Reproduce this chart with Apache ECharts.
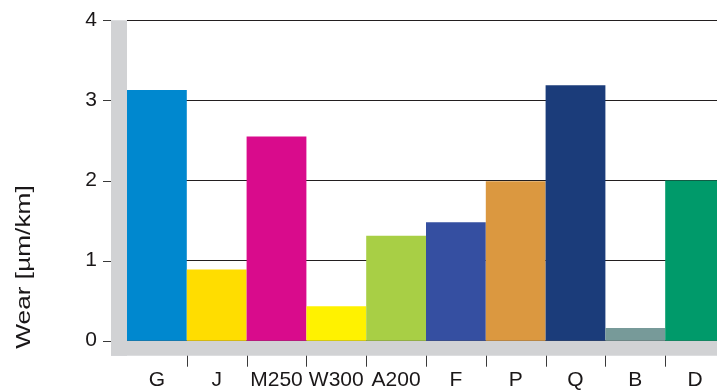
<!DOCTYPE html>
<html><head><meta charset="utf-8">
<script src="https://cdn.jsdelivr.net/npm/echarts@6/dist/echarts.min.js"></script>
<style>html,body{margin:0;padding:0;background:#fff}#c{width:717px;height:390px}</style>
</head><body><div id="c"></div>
<script>
const categories = ['G','J','M250','W300','A200','F','P','Q','B','D'];
const values = [3.13, 0.89, 2.55, 0.43, 1.31, 1.48, 1.99, 3.19, 0.16, 2.0];
const colors = ['#0088cf','#ffdd00','#d90b8c','#fff200','#a8cf45','#354fa1','#db9840','#1b3c7a','#779a99','#009a6a'];
const yTicks = [0,1,2,3,4];
const yTitle = 'Wear [µm/km]';
const FONT = '"Liberation Sans", Arial, sans-serif';
const GRAY = '#d1d2d4';
const TXT = '#1a1718';
const TICK = '#3a3a3a';

const chart = echarts.init(document.getElementById('c'), null, {renderer:'canvas'});
const option = {
  animation:false,
  grid:{left:127, top:20.3, bottom:49.3, width:598, containLabel:false, outerBoundsMode:'none'},
  xAxis:{type:'category', data:categories, offset:15,
    axisLine:{show:false}, axisTick:{show:false},
    axisLabel:{margin:14, color:TXT, fontFamily:FONT, fontSize:21, fontWeight:'normal', interval:0},
    splitLine:{show:false}},
  yAxis:{type:'value', min:yTicks[0], max:yTicks[yTicks.length-1], interval:1, offset:16,
    axisLine:{show:false}, axisTick:{show:false},
    axisLabel:{margin:14, color:TXT, fontFamily:FONT, fontSize:21, fontWeight:'normal'},
    splitLine:{show:true, lineStyle:{color:'#231f20', width:1.2}}},
  series:[{type:'bar', data:values.map((v,i)=>({value:v, itemStyle:{color:colors[i]}})),
    barWidth:'100%', barCategoryGap:0, z:3}]
};
chart.setOption(option);
const yTop = chart.convertToPixel({yAxisIndex:0}, yTicks[yTicks.length-1]);
const yZero = chart.convertToPixel({yAxisIndex:0}, 0);
const gridLeft = 127;
const wallX = gridLeft - 16;
const floorBottom = yZero + 15;
const g = [
  {type:'rect', z:1, shape:{x:wallX, y:yTop, width:16, height:floorBottom-yTop}, style:{fill:GRAY}},
  {type:'rect', z:1, shape:{x:wallX, y:yZero, width:717-wallX, height:15}, style:{fill:GRAY}},
  {type:'text', z:5, x:24, y:267, rotation:Math.PI/2, scaleX:1.25,
    style:{text:yTitle, font:'21px '+FONT, fill:TXT, textAlign:'center', textVerticalAlign:'middle'}}
];
// y ticks, left of the wall
yTicks.forEach(v => {
  const py = Math.round(chart.convertToPixel({yAxisIndex:0}, v)) + 0.5;
  g.push({type:'line', z:2, shape:{x1:wallX-8, y1:py, x2:wallX, y2:py}, style:{stroke:TICK, lineWidth:1}});
});
// x ticks at category boundaries, below the floor
for (let i = 1; i < categories.length; i++) {
  const a = chart.convertToPixel({xAxisIndex:0}, categories[i-1]);
  const b = chart.convertToPixel({xAxisIndex:0}, categories[i]);
  const px = Math.round((a + b) / 2) + 0.5;
  g.push({type:'line', z:2, shape:{x1:px, y1:floorBottom, x2:px, y2:floorBottom+11}, style:{stroke:TICK, lineWidth:1}});
}
chart.setOption({graphic:g});
</script></body></html>
